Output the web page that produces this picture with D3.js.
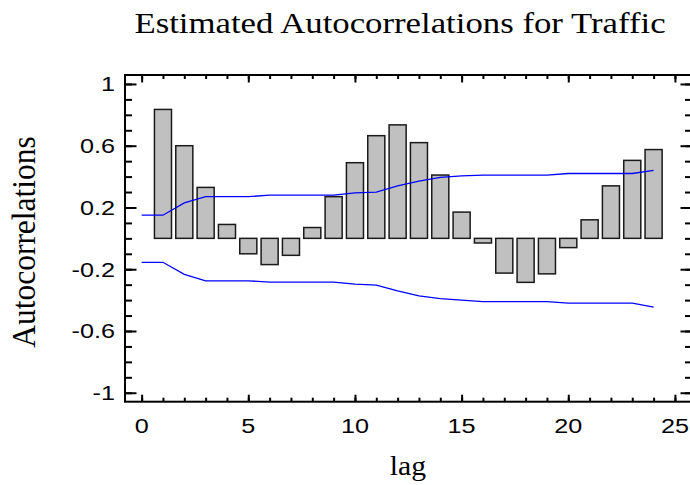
<!DOCTYPE html>
<html>
<head>
<meta charset="utf-8">
<script src="https://cdn.jsdelivr.net/npm/d3@7"></script>
<style>
  body { margin: 0; background: #fff; }
  svg { display: block; }
</style>
</head>
<body>
<svg id="chart" width="690" height="485"></svg>
<script>
/*
**************************** DATA ****************************
*/
var lags = [1, 2, 3, 4, 5, 6, 7, 8, 9, 10, 11, 12, 13, 14, 15, 16, 17, 18, 19, 20, 21, 22, 23, 24];
var acf = [0.835, 0.60, 0.33, 0.09, -0.10, -0.17, -0.11, 0.07, 0.27, 0.49, 0.665, 0.735,
           0.62, 0.41, 0.17, -0.03, -0.225, -0.285, -0.23, -0.06, 0.12, 0.34, 0.505, 0.575];

// probability limits, lag 0..24
var limitLags = [0, 1, 2, 3, 4, 5, 6, 7, 8, 9, 10, 11, 12, 13, 14, 15, 16, 17, 18, 19, 20, 21, 22, 23, 24];
var upperLimit = [0.15, 0.15, 0.23, 0.27, 0.27, 0.27, 0.28, 0.28, 0.28, 0.28, 0.295, 0.30, 0.34,
                  0.37, 0.395, 0.405, 0.41, 0.41, 0.41, 0.41, 0.42, 0.42, 0.42, 0.42, 0.44];
var lowerLimit = [-0.155, -0.155, -0.233, -0.275, -0.275, -0.275, -0.283, -0.283, -0.283, -0.283, -0.296, -0.303, -0.34,
                  -0.372, -0.39, -0.40, -0.41, -0.41, -0.41, -0.41, -0.42, -0.42, -0.42, -0.42, -0.445];

var xMajor = [0, 5, 10, 15, 20, 25];
var xMajorLabels = ["0", "5", "10", "15", "20", "25"];
var xMinor = d3.range(0, 26);
var yMajor = [-1, -0.6, -0.2, 0.2, 0.6, 1];
var yMajorLabels = ["-1", "-0.6", "-0.2", "0.2", "0.6", "1"];
var yMinor = [-1, -0.9, -0.8, -0.7, -0.6, -0.5, -0.4, -0.3, -0.2, -0.1, 0, 0.1, 0.2, 0.3, 0.4, 0.5, 0.6, 0.7, 0.8, 0.9, 1];

var title = "Estimated Autocorrelations for Traffic";
var xTitle = "lag";
var yTitle = "Autocorrelations";

/*
**************************** SETUP ****************************
*/
var svg = d3.select("#chart"),
    frame = { left: 125, right: 692, top: 75, bottom: 401.7 },
    stretch = 1.2;   // text in the picture is a bit wide

var x = d3.scaleLinear().domain([-0.78, 25.8]).range([frame.left, frame.right]);
var y = d3.scaleLinear().domain([-1.058, 1.058]).range([frame.bottom, frame.top]);

var serif = "'Liberation Serif', 'Times New Roman', serif",
    sans = "'Liberation Sans', Arial, sans-serif";

/*
**************************** BARS ****************************
*/
var half = 0.4;
svg.append("g").selectAll("rect")
    .data(lags)
    .enter().append("rect")
    .attr("x", function (d) { return x(d - half); })
    .attr("width", function () { return x(half) - x(-half); })
    .attr("y", function (d, i) { return y(Math.max(0, acf[i])); })
    .attr("height", function (d, i) { return Math.abs(y(acf[i]) - y(0)); })
    .attr("fill", "#c0c0c0")
    .attr("stroke", "#1a1a1a")
    .attr("stroke-width", 1.5);

/*
**************************** LIMITS ****************************
*/
var line = d3.line()
    .x(function (d) { return x(d[0]); })
    .y(function (d) { return y(d[1]); });

[upperLimit, lowerLimit].forEach(function (arr) {
    svg.append("path")
        .datum(limitLags.map(function (l, i) { return [l, arr[i]]; }))
        .attr("d", line)
        .attr("fill", "none")
        .attr("stroke", "#0000ff")
        .attr("stroke-width", 1.3);
});

/*
**************************** AXES ****************************
*/
function ticks(axis, values, size, transform) {
    var g = svg.append("g")
        .attr("transform", transform)
        .call(axis.tickValues(values).tickSize(size).tickSizeOuter(0).tickFormat(""));
    g.select(".domain").remove();
    g.selectAll("line").attr("stroke", "#000").attr("stroke-width", 2);
}

// left / right: ticks point into the plot
ticks(d3.axisLeft(y), yMinor, -7, "translate(" + frame.left + ",0)");
ticks(d3.axisLeft(y), yMajor, -11.5, "translate(" + frame.left + ",0)");
ticks(d3.axisRight(y), yMinor, -7, "translate(" + frame.right + ",0)");
ticks(d3.axisRight(y), yMajor, -11.5, "translate(" + frame.right + ",0)");
// top / bottom
ticks(d3.axisBottom(x), xMinor, -4, "translate(0," + frame.bottom + ")");
ticks(d3.axisBottom(x), xMajor, -7, "translate(0," + frame.bottom + ")");
ticks(d3.axisTop(x), xMinor, -4, "translate(0," + frame.top + ")");
ticks(d3.axisTop(x), xMajor, -7.5, "translate(0," + frame.top + ")");

svg.append("rect")
    .attr("x", frame.left).attr("y", frame.top)
    .attr("width", frame.right - frame.left)
    .attr("height", frame.bottom - frame.top)
    .attr("fill", "none")
    .attr("stroke", "#000")
    .attr("stroke-width", 2);

// tick labels
svg.append("g").selectAll("text")
    .data(yMajor)
    .enter().append("text")
    .attr("transform", function (d) { return "translate(115," + (y(d) + 7.5) + ") scale(" + stretch + ",1)"; })
    .attr("text-anchor", "end")
    .attr("font-family", sans)
    .attr("font-size", 21)
    .text(function (d, i) { return yMajorLabels[i]; });

svg.append("g").selectAll("text")
    .data(xMajor)
    .enter().append("text")
    .attr("transform", function (d) { return "translate(" + x(d) + ",433) scale(" + stretch + ",1)"; })
    .attr("text-anchor", "middle")
    .attr("font-family", sans)
    .attr("font-size", 21)
    .text(function (d, i) { return xMajorLabels[i]; });

/*
**************************** TITLES ****************************
*/
svg.append("text")
    .attr("transform", "translate(400,33) scale(1.14,1)")
    .attr("text-anchor", "middle")
    .attr("font-family", serif)
    .attr("font-size", 30.5)
    .text(title);

svg.append("text")
    .attr("transform", "translate(408,475) scale(1.1,1)")
    .attr("text-anchor", "middle")
    .attr("font-family", serif)
    .attr("font-size", 27)
    .text(xTitle);

svg.append("text")
    .attr("transform", "translate(35,242) scale(1.1,1) rotate(-90)")
    .attr("text-anchor", "middle")
    .attr("font-family", serif)
    .attr("font-size", 31.5)
    .text(yTitle);
</script>
</body>
</html>
